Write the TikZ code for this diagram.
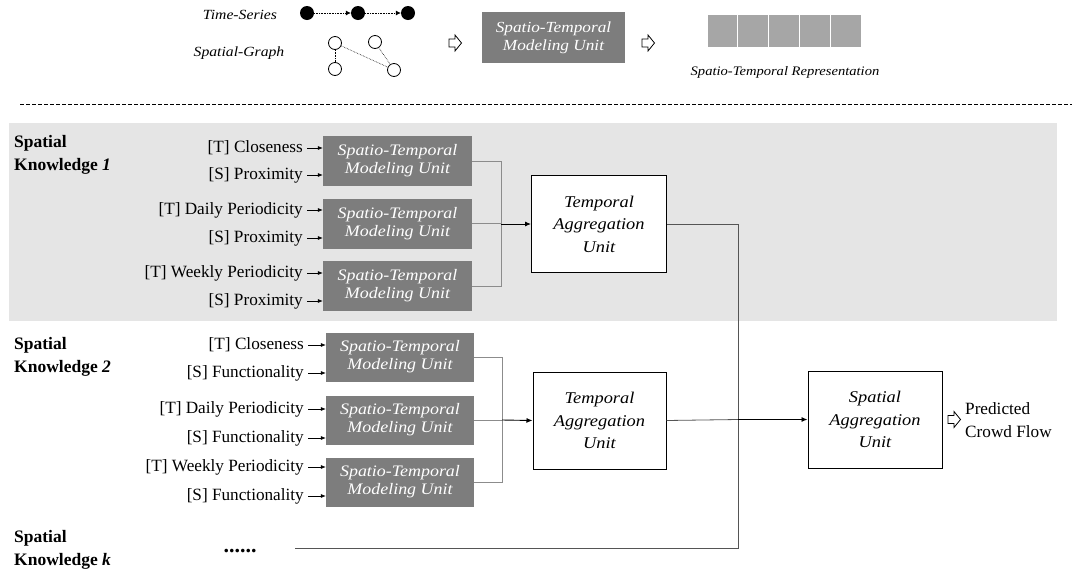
\documentclass[tikz,border=0pt]{standalone}
\usepackage{fontspec}
\setmainfont{Liberation Serif}[BoldFont={Liberation Serif Bold},ItalicFont={Liberation Serif Italic},BoldItalicFont={Liberation Serif Bold Italic}]
\newfontfamily\geo{Liberation Serif}[FakeStretch=1.12,ItalicFont={Liberation Serif Italic}]
\usetikzlibrary{arrows.meta,calc}
\definecolor{band}{RGB}{229,229,229}
\definecolor{stgray}{RGB}{125,125,125}
\definecolor{repgray}{RGB}{166,166,166}
\definecolor{conngray}{RGB}{140,140,140}
\definecolor{outgray}{RGB}{85,85,85}
\tikzset{
  stbox/.style={fill=stgray, text=white, minimum width=149pt, minimum height=50pt, inner sep=0pt, align=center, font=\geo\itshape\fontsize{16}{18}\selectfont},
  aggbox/.style={draw=black, line width=1pt, fill=white, minimum width=135pt, minimum height=97pt, inner sep=0pt, align=center, font=\geo\itshape\fontsize{16.4}{22.5}\selectfont},
  inlabel/.style={anchor=east, inner sep=2pt, font=\fontsize{17.2}{20}\selectfont},
  inarrow/.style={-{Latex[length=5pt,width=4pt]}, line width=0.6pt, shorten <=2pt},
  conn/.style={draw=conngray, line width=0.8pt},
  outline/.style={draw=outgray, line width=0.8pt},
  blackarrow/.style={-{Latex[length=6pt,width=5pt]}, line width=0.9pt},
  skl/.style={anchor=west, align=left, inner sep=0pt, font=\bfseries\fontsize{17.5}{23}\selectfont},
  tslabel/.style={font=\geo\itshape\fontsize{14}{16}\selectfont},
  tsdot/.style={circle, fill=black, minimum size=14pt, inner sep=0pt},
  gnode/.style={circle, draw=black, line width=0.8pt, fill=white, minimum size=13pt, inner sep=0pt},
  repsq/.style={fill=repgray, minimum width=29.8pt, minimum height=32pt, inner sep=0pt},
  hollow/.pic={\draw[line width=0.8pt, fill=white] (-6,-4) -- (0,-4) -- (0,-8) -- (6.5,0) -- (0,8) -- (0,4) -- (-6,4) -- cycle;}
}
\begin{document}
\begin{tikzpicture}[x=1pt,y=-1pt]
\useasboundingbox (0,0) rectangle (1072,574);
\fill[white] (0,0) rectangle (1072,574);

% ---------- top legend ----------
\node[tslabel] (tsl) at (240,15) {Time-Series};
\node[tslabel] (sgl) at (239,53) {Spatial-Graph};
\node[tsdot] (t1) at (307,13) {};
\node[tsdot] (t2) at (358,13) {};
\node[tsdot] (t3) at (408,13) {};
\draw[densely dotted, line width=0.6pt, -{Latex[length=5pt,width=5pt]}] (t1) -- (t2);
\draw[densely dotted, line width=0.6pt, -{Latex[length=5pt,width=5pt]}] (t2) -- (t3);
\node[gnode] (ga) at (335,43) {};
\node[gnode] (gb) at (375,42) {};
\node[gnode] (gc) at (335,69) {};
\node[gnode] (gd) at (394,70) {};
\draw[densely dotted, line width=0.6pt] (ga) -- (gc);
\draw[densely dotted, line width=0.6pt] (ga) -- (gd);
\draw[densely dotted, line width=0.6pt] (gb) -- (gd);
\pic at (455,43) {hollow};
\node[stbox, minimum width=143pt, minimum height=51pt, font=\geo\itshape\fontsize{15.4}{18}\selectfont] (stt) at (553.5,37.5) {Spatio-Temporal\\Modeling Unit};
\pic at (648,43) {hollow};
\node[repsq] (r1) at (722.4,31) {};
\node[repsq] (r2) at (753.2,31) {};
\node[repsq] (r3) at (784.0,31) {};
\node[repsq] (r4) at (814.8,31) {};
\node[repsq] (r5) at (845.6,31) {};
\node[tslabel, font=\geo\itshape\fontsize{13}{15}\selectfont] (repl) at (785,72) {Spatio-Temporal Representation};

\draw[dashed, dash pattern=on 4pt off 2pt, line width=0.8pt] (20,104) -- (1072,104);

% ---------- band ----------
\fill[band] (9,123) rectangle (1057,321);

% ---------- Spatial knowledge 1 ----------
\node[skl] (sk1) at (14,155) {Spatial\\Knowledge \textit{1}};
\node[stbox] (s11) at (397.5,161) {Spatio-Temporal\\Modeling Unit};
\node[stbox] (s12) at (397.5,223.5) {Spatio-Temporal\\Modeling Unit};
\node[stbox] (s13) at (397.5,286) {Spatio-Temporal\\Modeling Unit};
\node[inlabel] (a1) at (305,148) {[T] Closeness};
\node[inlabel] (a2) at (305,175) {[S] Proximity};
\node[inlabel] (a3) at (305,210) {[T] Daily Periodicity};
\node[inlabel] (a4) at (305,238) {[S] Proximity};
\node[inlabel] (a5) at (305,273) {[T] Weekly Periodicity};
\node[inlabel] (a6) at (305,301) {[S] Proximity};
\draw[inarrow] (a1.east) -- (a1.east -| s11.west);
\draw[inarrow] (a2.east) -- (a2.east -| s11.west);
\draw[inarrow] (a3.east) -- (a3.east -| s12.west);
\draw[inarrow] (a4.east) -- (a4.east -| s12.west);
\draw[inarrow] (a5.east) -- (a5.east -| s13.west);
\draw[inarrow] (a6.east) -- (a6.east -| s13.west);
\node[aggbox] (ta1) at (599,224) {Temporal\\Aggregation\\Unit};
\coordinate (j1) at (501,224);
\draw[conn] (s11.east) -| (j1);
\draw[conn] (s13.east) -| (j1);
\draw[conn] (s12.east) -- (s12.east -| j1);
\draw[blackarrow] (j1) -- (ta1.west);

% ---------- Spatial knowledge 2 ----------
\node[skl] (sk2) at (14,357) {Spatial\\Knowledge \textit{2}};
\node[stbox, minimum width=148pt, minimum height=49pt] (s21) at (400,357) {Spatio-Temporal\\Modeling Unit};
\node[stbox, minimum width=148pt, minimum height=49pt] (s22) at (400,420) {Spatio-Temporal\\Modeling Unit};
\node[stbox, minimum width=148pt, minimum height=49pt] (s23) at (400,482) {Spatio-Temporal\\Modeling Unit};
\node[inlabel] (b1) at (306,345) {[T] Closeness};
\node[inlabel] (b2) at (306,373) {[S] Functionality};
\node[inlabel] (b3) at (306,409) {[T] Daily Periodicity};
\node[inlabel] (b4) at (306,438) {[S] Functionality};
\node[inlabel] (b5) at (306,467) {[T] Weekly Periodicity};
\node[inlabel] (b6) at (306,496) {[S] Functionality};
\draw[inarrow] (b1.east) -- (b1.east -| s21.west);
\draw[inarrow] (b2.east) -- (b2.east -| s21.west);
\draw[inarrow] (b3.east) -- (b3.east -| s22.west);
\draw[inarrow] (b4.east) -- (b4.east -| s22.west);
\draw[inarrow] (b5.east) -- (b5.east -| s23.west);
\draw[inarrow] (b6.east) -- (b6.east -| s23.west);
\node[aggbox, minimum width=133pt] (ta2) at (599.5,420.5) {Temporal\\Aggregation\\Unit};
\coordinate (j2) at (502,420);
\draw[conn] (s21.east) -| (j2);
\draw[conn] (s23.east) -| (j2);
\draw[conn] (s22.east) -- (s22.east -| j2);
\draw[blackarrow] (j2) -- (ta2.west);

% ---------- Spatial knowledge k ----------
\node[skl] (skk) at (14,549.5) {Spatial\\Knowledge \textit{k}};
\node[font=\bfseries\fontsize{22}{24}\selectfont, inner sep=0pt] (dots) at (240,551) {......};
\coordinate (kend) at (295,548);

% ---------- spatial aggregation ----------
\node[aggbox, minimum width=134pt] (sa) at (875,419.5) {Spatial\\Aggregation\\Unit};
\coordinate (v) at (738,419.5);
\draw[outline] (ta1.east) -| (v);
\draw[outline] (ta2.east) -- (v);
\draw[outline] (kend) -| (v);
\draw[blackarrow] (v) -- (sa.west);
\pic at (954,419.5) {hollow};
\node[anchor=west, align=left, inner sep=0pt, font=\fontsize{17.2}{23}\selectfont] (out) at (965,420) {Predicted\\Crowd Flow};
\end{tikzpicture}
\end{document}
